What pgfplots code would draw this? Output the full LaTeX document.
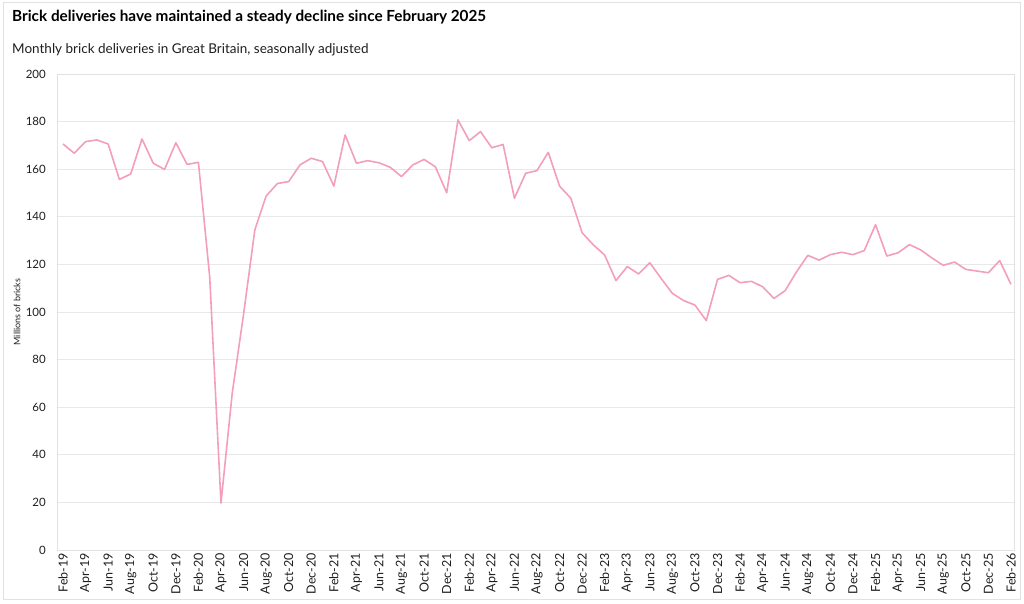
\documentclass[border=0pt]{standalone}
\usepackage{fontspec}
\setmainfont{Lato}
\usepackage{pgfplots}
\pgfplotsset{compat=1.18}
\definecolor{linepink}{RGB}{243,158,189}
\definecolor{gridgrey}{RGB}{232,232,232}
\definecolor{framegrey}{RGB}{226,226,226}
\definecolor{textdark}{RGB}{30,30,30}
\begin{document}
\begin{tikzpicture}[x=1pt,y=1pt]
\path[use as bounding box] (0,0) rectangle (1024,603);
\draw[framegrey, line width=1pt] (3,3.5) rectangle (1020.5,600);
\node[anchor=base west, inner sep=0pt, font=\bfseries\fontsize{15.3}{18}\selectfont, text=black] at (12,581) {Brick deliveries have maintained a steady decline since February 2025};
\node[anchor=base west, inner sep=0pt, font=\fontsize{13.5}{16}\selectfont, text=textdark] at (12,549.5) {Monthly brick deliveries in Great Britain, seasonally adjusted};
\begin{axis}[
  at={(57pt,53pt)}, anchor=south west,
  scale only axis, width=957pt, height=476pt,
  xmin=-0.53, xmax=84.27, ymin=0, ymax=200,
  ytick={0,20,...,200},
  xtick={0,2,...,84},
  xticklabels={Feb-19,Apr-19,Jun-19,Aug-19,Oct-19,Dec-19,Feb-20,Apr-20,Jun-20,Aug-20,Oct-20,Dec-20,Feb-21,Apr-21,Jun-21,Aug-21,Oct-21,Dec-21,Feb-22,Apr-22,Jun-22,Aug-22,Oct-22,Dec-22,Feb-23,Apr-23,Jun-23,Aug-23,Oct-23,Dec-23,Feb-24,Apr-24,Jun-24,Aug-24,Oct-24,Dec-24,Feb-25,Apr-25,Jun-25,Aug-25,Oct-25,Dec-25,Feb-26},
  major tick length=0pt,
  ymajorgrids, grid style={gridgrey, line width=0.8pt},
  axis line style={framegrey, line width=0.8pt},
  /pgf/number format/assume math mode=true,
  y tick label style={font=\fontsize{11.5}{14}\selectfont, text=textdark, anchor=east, inner sep=0pt, xshift=-11pt},
  x tick label style={font=\fontsize{12.5}{14}\selectfont, text=textdark, rotate=90, anchor=east, inner sep=0pt, xshift=-3pt},
  ylabel={Millions of bricks},
  y label style={font=\fontsize{9}{11}\selectfont, text=textdark, at={(axis description cs:0,0.5)}, anchor=center, yshift=40pt},
  clip=false,
]
\addplot[linepink, line width=1.6pt, line join=round] coordinates {
(0,170.6) (1,166.7) (2,171.6) (3,172.3) (4,170.6) (5,155.7) (6,158.0) (7,172.7) (8,162.5) (9,159.9)
(10,171.1) (11,162.0) (12,162.9) (13,114.8) (14,19.7) (15,66.0) (16,99.0) (17,134.5) (18,148.7) (19,154.0)
(20,154.8) (21,161.8) (22,164.6) (23,163.2) (24,152.9) (25,174.4) (26,162.5) (27,163.6) (28,162.7) (29,160.8)
(30,156.9) (31,161.8) (32,164.1) (33,161.0) (34,150.1) (35,180.7) (36,172.0) (37,175.8) (38,169.0) (39,170.4)
(40,147.8) (41,158.3) (42,159.4) (43,167.1) (44,152.9) (45,147.8) (46,133.3) (47,128.2) (48,123.9) (49,113.2)
(50,119.1) (51,116.0) (52,120.7) (53,114.1) (54,107.8) (55,104.8) (56,102.9) (57,96.4) (58,113.7) (59,115.4)
(60,112.3) (61,112.9) (62,110.6) (63,105.7) (64,109.0) (65,116.9) (66,123.8) (67,121.8) (68,124.1) (69,125.1)
(70,124.1) (71,125.8) (72,136.7) (73,123.5) (74,124.9) (75,128.3) (76,126.1) (77,122.7) (78,119.6) (79,121.0)
(80,117.9) (81,117.2) (82,116.5) (83,121.6) (84,111.6)
};
\end{axis}
\end{tikzpicture}
\end{document}
